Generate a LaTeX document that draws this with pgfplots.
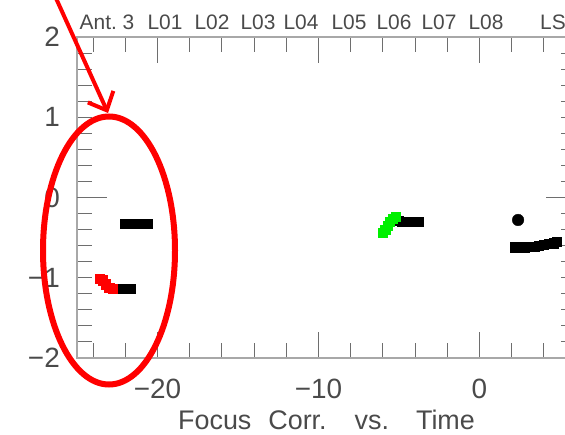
\documentclass[border=0pt]{standalone}
\usepackage{fontspec}
\setmainfont{Liberation Sans}
\usepackage{pgfplots}
\pgfplotsset{compat=1.18}
\usetikzlibrary{arrows.meta}
\definecolor{txt}{HTML}{4A4A4A}
\definecolor{axln}{HTML}{A8A8A8}
\definecolor{tk}{HTML}{6E6E6E}
\definecolor{grn}{HTML}{00F000}
\definecolor{annot}{HTML}{FF0000}

\begin{document}
\begin{tikzpicture}[x=1bp,y=1bp]
\useasboundingbox (0,0) rectangle (565,435);
\clip (0,0) rectangle (565,435);
\begin{axis}[
  at={(77bp,77bp)}, anchor=south west,
  scale only axis, width=499bp, height=321bp,
  xmin=-25, xmax=6, ymin=-2, ymax=2,
  axis line style={draw=axln, line width=1.6bp},
  tick align=inside,
  tick style={draw=tk, line width=1bp},
  major tick length=15bp, minor tick length=15bp,
  xtick={-20,-10,0}, xticklabels={−20,−10,0},
  xtick style={/pgfplots/major tick length=26bp},
  minor xtick={-24,-22,...,4},
  ytick={-2,-1,0,1,2}, yticklabels={−2,−1,0,1,2},
  minor ytick={-1.8,-1.6,-1.4,-1.2,-0.8,-0.6,-0.4,-0.2,0.2,0.4,0.6,0.8,1.2,1.4,1.6,1.8},
  extra y ticks={0}, extra y tick labels={},
  extra y tick style={/pgfplots/major tick length=30bp},
  xticklabel style={font=\fontsize{28}{28}\selectfont, text=txt, anchor=center, yshift=-31bp, inner sep=0pt},
  yticklabel style={font=\fontsize{28}{28}\selectfont, text=txt, anchor=east, xshift=-17bp, inner sep=0pt},
  xlabel={Focus\hspace{17bp}Corr.\hspace{28bp}vs.\hspace{27bp}Time},
  xlabel style={font=\fontsize{27}{27}\selectfont, text=txt, at={(axis description cs:0.5,0)}, anchor=center, yshift=-62bp, inner sep=0pt},
  clip=true,
]
% black focus corrections
\addplot[only marks, mark=square*, mark size=4.6bp, black] coordinates {
  (-22.0,-0.33) (-21.8,-0.33) (-21.6,-0.33) (-21.4,-0.33) (-21.2,-0.33) (-21.0,-0.33) (-20.8,-0.33) (-20.6,-0.33)
};
\addplot[only marks, mark=square*, mark size=4.6bp, black] coordinates {
  (-22.6,-1.14) (-22.4,-1.14) (-22.2,-1.14) (-22.0,-1.14) (-21.8,-1.14) (-21.7,-1.14)
};
\addplot[only marks, mark=square*, mark size=4.6bp, black] coordinates {
  (-5.0,-0.29) (-4.8,-0.30) (-4.6,-0.30) (-4.4,-0.30) (-4.2,-0.30) (-4.0,-0.30) (-3.8,-0.30)
};
\addplot[only marks, mark=*, mark size=5.8bp, black] coordinates {
  (2.4,-0.28)
};
\addplot[only marks, mark=square*, mark size=4.6bp, black] coordinates {
  (2.2,-0.62) (2.5,-0.62) (2.8,-0.62) (3.1,-0.61) (3.4,-0.61) (3.7,-0.60) (4.0,-0.59) (4.3,-0.58) (4.6,-0.57) (4.8,-0.55)
};
% red and green segments
\addplot[only marks, mark=square*, mark size=4.6bp, annot] coordinates {
  (-23.6,-1.01) (-23.4,-1.03) (-23.2,-1.08) (-23.0,-1.12) (-22.8,-1.14)
};
\addplot[only marks, mark=square*, mark size=4.6bp, grn] coordinates {
  (-6.0,-0.44) (-5.85,-0.40) (-5.7,-0.35) (-5.55,-0.30) (-5.4,-0.26) (-5.2,-0.24)
};
\end{axis}
% station labels along the top
\begin{scope}[font=\fontsize{21}{21}\selectfont, text=txt, inner sep=0pt]
\node at (107,412.5) {Ant.\ 3};
\node at (165,412.5) {L01};
\node at (212,412.5) {L02};
\node at (258,412.5) {L03};
\node at (301,412.5) {L04};
\node at (349,412.5) {L05};
\node at (394,412.5) {L06};
\node at (439,412.5) {L07};
\node at (486,412.5) {L08};
\node[anchor=west] at (540,412.5) {LS1};
\end{scope}
% red markup
\draw[annot, line width=6bp] (109,184.5) ellipse [x radius=66, y radius=134];
\draw[annot, line width=4bp, -{Straight Barb[length=15bp, width=28bp, line width=4bp]}] (50,450) -- (108,322);
\end{tikzpicture}
\end{document}
